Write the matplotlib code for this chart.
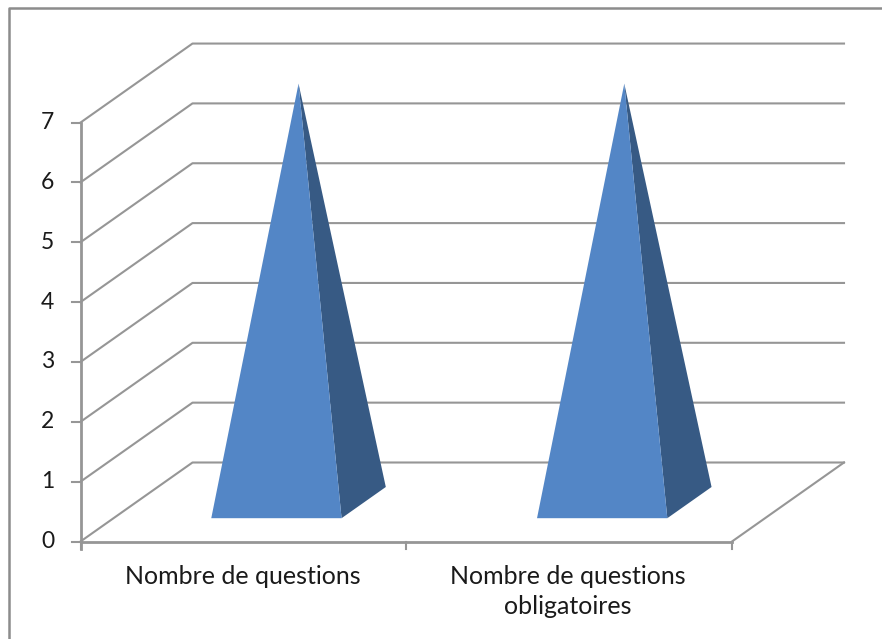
import matplotlib
matplotlib.use("Agg")
import matplotlib.pyplot as plt

categories = ["Nombre de questions", "Nombre de questions\nobligatoires"]
values = [7, 7]
y_ticks = [0, 1, 2, 3, 4, 5, 6, 7]

GREY = "#969696"
FRONT = "#5386c6"
SIDE = "#375a84"

# fake 3d: pixels of the front floor corner, one category, one value, the depth vector
X0, Y0 = 80.5, 541.5
CAT_W = 325.75
UNIT = 59.85
DX, DY = 112, -79


def project(cat, val, depth=0.0):
    return X0 + cat * CAT_W + depth * DX, Y0 - val * UNIT + depth * DY


fig = plt.figure(figsize=(8.82, 6.39), dpi=100)
ax = fig.add_axes([0, 0, 1, 1])
ax.set_xlim(0, 882)
ax.set_ylim(639, 0)
ax.axis("off")

# outer chart frame, only top and left show up in the picture
ax.plot([9, 9, 882], [639, 7.5, 7.5], color="#8c8c8c", lw=1.8, solid_capstyle="butt")

n = len(categories)

# gridlines on side and back wall
for v in y_ticks:
    pts = [project(0, v), project(0, v, 1), project(n, v, 1)]
    ax.plot([p[0] for p in pts], [p[1] for p in pts], color=GREY, lw=1.5, zorder=1)

# floor edge on the right
pts = [project(n, 0), project(n, 0, 1)]
ax.plot([p[0] for p in pts], [p[1] for p in pts], color=GREY, lw=1.5, zorder=1)

# axes
xa = [project(0, 0)[0], project(n, 0)[0]]
ax.plot(xa, [Y0, Y0], color=GREY, lw=2, zorder=2)
ax.plot([X0, X0], [project(0, 0)[1] + 7, project(0, y_ticks[-1])[1]], color=GREY, lw=2, zorder=2)

for v in y_ticks:
    x, y = project(0, v)
    ax.plot([x - 9, x], [y, y], color=GREY, lw=1.5, zorder=2)
    ax.text(x - 33, y, str(v), ha="center", va="center", fontsize=16.5,
            family="Lato", color="#1a1a1a")

for i in range(n + 1):
    x, y = project(i, 0)
    ax.plot([x, x], [y, y + 7], color=GREY, lw=1.5, zorder=2)

for i, label in enumerate(categories):
    x, y = project(i + 0.5, 0)
    ax.text(x - 1, y + 23, label, ha="center", va="top", fontsize=18, family="Lato",
            color="#1a1a1a", linespacing=1.42)

# pyramids
half = 0.2
d_front, d_back = 0.295, 0.69
d_mid = (d_front + d_back) / 2
for i, v in enumerate(values):
    c = i + 0.5
    apex = project(c, v, d_mid)
    fl = project(c - half, 0, d_front)
    fr = project(c + half, 0, d_front)
    br = project(c + half, 0, d_back)
    ax.fill(*zip(br, fr, apex), color=SIDE, lw=0, zorder=3)
    ax.fill(*zip(fl, fr, apex), color=FRONT, lw=0, zorder=4)

fig.savefig("out.png", dpi=100)
